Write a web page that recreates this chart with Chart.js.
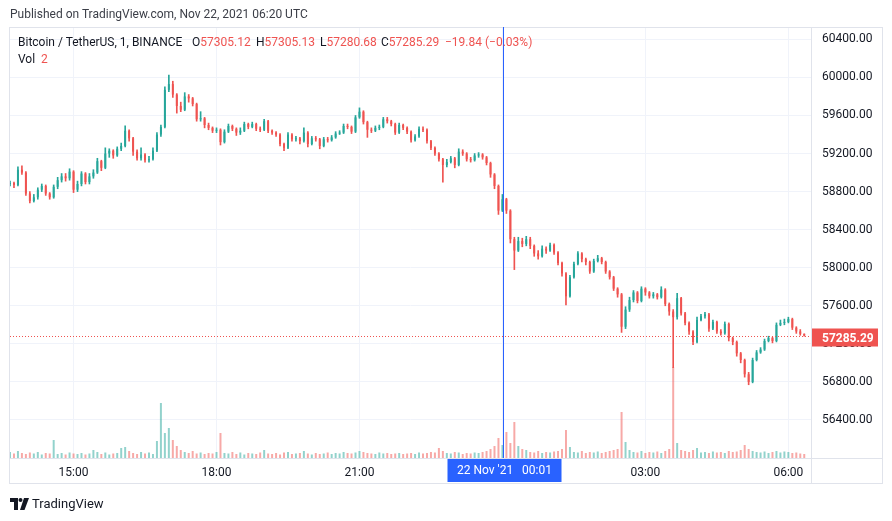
<!DOCTYPE html>
<html>
<head>
<meta charset="utf-8">
<script src="https://cdn.jsdelivr.net/npm/chart.js@4.4.0/dist/chart.umd.min.js"></script>
<style>
  body { margin: 0; background: #fff; font-family: Roboto, sans-serif; }
  #wrap { position: relative; width: 892px; height: 521px; overflow: hidden; }
  #c { position: absolute; left: 0; top: 0; }
  .t { position: absolute; font-size: 12px; line-height: 14px; color: #131722; white-space: pre; }
  .r { color: #ef5350; }
</style>
</head>
<body>
<div id="wrap">
  <canvas id="c" width="892" height="521"></canvas>
  <div class="t" style="left:10px;top:7px;color:#3b3e47">Published on TradingView.com, Nov 22, 2021 06:20 UTC</div>
  <div class="t" style="left:18px;top:35px">Bitcoin / TetherUS, 1, BINANCE</div>
  <div class="t" style="left:192px;top:35px">O<span class="r">57305.12</span></div>
  <div class="t" style="left:256px;top:35px">H<span class="r">57305.13</span></div>
  <div class="t" style="left:320px;top:35px">L<span class="r">57280.68</span></div>
  <div class="t" style="left:381px;top:35px">C<span class="r">57285.29</span></div>
  <div class="t r" style="left:445px;top:35px">−19.84 (−0.03%)</div>
  <div class="t" style="left:18px;top:52px">Vol <span class="r" style="margin-left:3px">2</span></div>
  <svg style="position:absolute;left:10px;top:498px" width="20" height="12" viewBox="0 0 20 12">
    <path d="M0 0H8V12H4V4H0Z" fill="#131722"/>
    <circle cx="10.5" cy="2" r="2" fill="#131722"/>
    <path d="M14 0H19L14.5 12H10Z" fill="#131722"/>
  </svg>
  <div class="t" style="left:32px;top:496px;font-size:13px;line-height:15px">TradingView</div>
</div>
<script>
// 5-minute candles from 13:40 (Nov 21) to 06:20 (Nov 22)
const firstOpen = 58880;
const closes = [
  58890, 58870, 59030, 59000, 58780, 58700, 58740, 58820, 58860, 58780,
  58740, 58850, 58920, 58960, 58940, 59010, 58820, 58880, 58990, 58900,
  58960, 59000, 59120, 59050, 59200, 59230, 59180, 59250, 59280, 59440,
  59360, 59220, 59150, 59190, 59130, 59140, 59230, 59400, 59480, 59870,
  59930, 59820, 59700, 59660, 59800, 59780, 59720, 59560, 59570, 59500,
  59470, 59440, 59450, 59320, 59430, 59490, 59460, 59420, 59440, 59510,
  59480, 59510, 59460, 59450, 59540, 59440, 59420, 59400, 59300, 59260,
  59400, 59350, 59360, 59330, 59420, 59300, 59360, 59350, 59280, 59350,
  59340, 59370, 59410, 59420, 59490, 59480, 59430, 59580, 59640, 59530,
  59450, 59440, 59470, 59480, 59560, 59540, 59510, 59420, 59500, 59470,
  59430, 59340, 59380, 59460, 59450, 59330, 59260, 59200, 59140, 59080,
  59110, 59150, 59080, 59220, 59200, 59140, 59130, 59180, 59190, 59160,
  59100, 58980, 58860, 58600, 58720, 58600, 58300, 58180, 58280, 58250,
  58300, 58230, 58150, 58120, 58200, 58180, 58240, 58160, 58050, 57940,
  57700, 57900, 58040, 58150, 58090, 58060, 57960, 58070, 58100, 58060,
  57960, 57900, 57780, 57720, 57380, 57560, 57660, 57740, 57650, 57780,
  57740, 57700, 57720, 57690, 57770, 57620, 57540, 57480, 57680, 57520,
  57420, 57330, 57220, 57450, 57490, 57510, 57360, 57430, 57330, 57310,
  57410, 57260, 57220, 57100, 57030, 56880, 56800, 57030, 57110, 57140,
  57230, 57260, 57230, 57400, 57420, 57430, 57460, 57370, 57330, 57305.13,
  57285.29
];
const highs = [
  58910, 58900, 59060, 59070, 59010, 58800, 58770, 58840, 58880, 58870,
  58790, 58870, 58950, 58990, 58990, 59040, 59020, 58910, 59010, 59000,
  58990, 59030, 59150, 59130, 59260, 59250, 59240, 59270, 59310, 59490,
  59450, 59370, 59240, 59260, 59200, 59170, 59260, 59420, 59500, 59900,
  60025, 59960, 59830, 59740, 59840, 59820, 59790, 59730, 59640, 59580,
  59520, 59480, 59470, 59460, 59450, 59510, 59500, 59470, 59470, 59530,
  59520, 59530, 59520, 59480, 59560, 59550, 59450, 59430, 59410, 59310,
  59420, 59410, 59380, 59370, 59470, 59430, 59380, 59380, 59360, 59370,
  59370, 59390, 59430, 59440, 59510, 59510, 59490, 59600, 59680, 59650,
  59540, 59470, 59490, 59500, 59580, 59580, 59550, 59520, 59520, 59510,
  59480, 59440, 59400, 59480, 59480, 59460, 59340, 59270, 59210, 59150,
  59140, 59170, 59160, 59250, 59240, 59210, 59160, 59200, 59210, 59200,
  59170, 59110, 58990, 58870, 58770, 58730, 58610, 58320, 58320, 58310,
  58330, 58320, 58240, 58180, 58230, 58220, 58260, 58250, 58170, 58060,
  57950, 57920, 58060, 58170, 58160, 58100, 58070, 58090, 58130, 58110,
  58070, 57970, 57910, 57790, 57730, 57590, 57690, 57760, 57750, 57800,
  57790, 57750, 57740, 57730, 57800, 57780, 57630, 57560, 57730, 57690,
  57530, 57430, 57340, 57480, 57510, 57530, 57520, 57450, 57440, 57350,
  57430, 57420, 57270, 57230, 57110, 57040, 56900, 57050, 57130, 57160,
  57250, 57280, 57270, 57420, 57450, 57460, 57480, 57470, 57380, 57350,
  57305.13
];
const lows = [
  58860, 58840, 58860, 58980, 58760, 58680, 58690, 58720, 58800, 58760,
  58720, 58730, 58830, 58900, 58910, 58920, 58790, 58800, 58860, 58880,
  58880, 58940, 58990, 59020, 59040, 59160, 59150, 59170, 59230, 59270,
  59330, 59180, 59130, 59130, 59110, 59110, 59130, 59220, 59380, 59470,
  59850, 59790, 59625, 59640, 59650, 59740, 59700, 59540, 59540, 59470,
  59450, 59420, 59420, 59290, 59310, 59420, 59440, 59390, 59400, 59430,
  59460, 59470, 59440, 59430, 59440, 59420, 59400, 59380, 59280, 59230,
  59250, 59330, 59330, 59300, 59320, 59270, 59290, 59330, 59250, 59270,
  59320, 59330, 59360, 59400, 59410, 59460, 59410, 59420, 59570, 59510,
  59370, 59420, 59430, 59450, 59470, 59520, 59490, 59400, 59410, 59450,
  59410, 59320, 59330, 59370, 59430, 59310, 59240, 59180, 59120, 58900,
  59060, 59100, 59050, 59070, 59180, 59120, 59110, 59120, 59160, 59140,
  59080, 58950, 58830, 58560, 58590, 58570, 58260, 57980, 58170, 58220,
  58230, 58200, 58120, 58090, 58110, 58150, 58170, 58140, 58030, 57910,
  57610, 57690, 57890, 58030, 58060, 58030, 57940, 57950, 58060, 58040,
  57940, 57880, 57760, 57690, 57320, 57360, 57540, 57640, 57630, 57640,
  57710, 57680, 57680, 57670, 57680, 57600, 57500, 56950, 57460, 57500,
  57400, 57300, 57190, 57210, 57440, 57470, 57330, 57350, 57310, 57290,
  57300, 57230, 57190, 57070, 57000, 56850, 56770, 56790, 57020, 57100,
  57130, 57220, 57210, 57220, 57390, 57400, 57420, 57350, 57310, 57290,
  57280.68
];
const volumes = [
  60, 45, 70, 50, 40, 55, 45, 60, 35, 50,
  45, 180, 40, 50, 35, 55, 45, 40, 50, 35,
  45, 80, 60, 40, 55, 35, 45, 50, 100, 110,
  70, 50, 40, 60, 45, 55, 40, 170, 550, 250,
  300, 180, 120, 80, 60, 50, 70, 45, 55, 40,
  50, 45, 60, 250, 50, 45, 60, 40, 55, 35,
  50, 45, 40, 55, 80, 45, 40, 50, 35, 55,
  60, 40, 45, 50, 70, 45, 35, 50, 40, 45,
  55, 40, 50, 45, 60, 50, 45, 55, 70, 60,
  50, 45, 40, 55, 45, 50, 40, 45, 50, 40,
  45, 50, 40, 55, 45, 50, 60, 55, 100, 70,
  50, 45, 60, 55, 40, 50, 45, 55, 50, 60,
  70, 90, 120, 200, 130, 260, 150, 360, 120, 90,
  80, 60, 55, 70, 50, 60, 55, 65, 70, 90,
  280, 110, 60, 55, 70, 50, 60, 55, 65, 50,
  60, 70, 80, 90, 460, 160, 80, 60, 55, 70,
  50, 60, 55, 65, 50, 70, 90, 910, 150, 80,
  70, 60, 80, 100, 55, 60, 50, 65, 55, 60,
  50, 70, 60, 65, 80, 130, 90, 70, 60, 55,
  65, 50, 60, 70, 55, 65, 60, 50, 55, 45,
  40
];
const tickIndex = [16, 52, 88, 124, 160, 196];
const tickLabels = ["15:00", "18:00", "21:00", "", "03:00", "06:00"];
const priceTicks = [56400, 56800, 57200, 57600, 58000, 58400, 58800, 59200, 59600, 60000, 60400];
const crossIndex = 124.2; // 22 Nov 00:01
const crossLabel = "22 Nov '21   00:01";

const UP = "#26a69a";
const DOWN = "#ef5350";
const opens = closes.map((c, i) => i === 0 ? firstOpen : closes[i - 1]);
const isUp = closes.map((c, i) => c >= opens[i]);
const candleColors = isUp.map(u => u ? UP : DOWN);
const volColors = isUp.map(u => u ? "rgba(38,166,154,0.5)" : "rgba(239,83,80,0.5)");

Chart.defaults.font.family = "Roboto";

const overlay = {
  id: "overlay",
  afterDraw(chart) {
    const { ctx, chartArea: a, scales } = chart;
    const x = scales.x, y = scales.y;
    ctx.save();

    // frame
    ctx.strokeStyle = "#e0e3eb";
    ctx.lineWidth = 1;
    ctx.strokeRect(9.5, 27.5, 873, 456);
    ctx.beginPath();
    ctx.moveTo(a.right + 0.5, 27); ctx.lineTo(a.right + 0.5, 484);
    ctx.moveTo(9, a.bottom + 0.5); ctx.lineTo(882, a.bottom + 0.5);
    ctx.stroke();

    // last price line
    const last = closes[closes.length - 1];
    const py = Math.round(y.getPixelForValue(last)) + 0.5;
    ctx.strokeStyle = DOWN;
    ctx.setLineDash([1, 2]);
    ctx.beginPath();
    ctx.moveTo(a.left, py); ctx.lineTo(a.right, py);
    ctx.stroke();
    ctx.setLineDash([]);
    ctx.fillStyle = DOWN;
    ctx.fillRect(a.right + 1, py - 8, 66, 18);
    ctx.fillStyle = "#fff";
    ctx.font = "bold 12px Roboto";
    ctx.textBaseline = "middle";
    ctx.textAlign = "left";
    ctx.fillText(last.toFixed(2), a.right + 11, py + 2);

    // crosshair
    const cx = Math.round(x.getPixelForValue(crossIndex)) + 0.5;
    ctx.strokeStyle = "#2962ff";
    ctx.beginPath();
    ctx.moveTo(cx, a.top); ctx.lineTo(cx, a.bottom);
    ctx.stroke();
    ctx.fillStyle = "#2962ff";
    ctx.fillRect(cx - 56, a.bottom + 1, 114, 23);
    ctx.fillStyle = "#fff";
    ctx.font = "12px Roboto";
    ctx.textAlign = "center";
    ctx.fillText(crossLabel, cx + 1, a.bottom + 13);
    ctx.restore();
  }
};

new Chart(document.getElementById("c").getContext("2d"), {
  type: "bar",
  data: {
    datasets: [
      {
        label: "body",
        data: closes.map((c, i) => ({ x: i, y: [opens[i], c] })),
        backgroundColor: candleColors,
        grouped: false,
        categoryPercentage: 1,
        barPercentage: 0.5,
        minBarLength: 1,
        order: 1,
        yAxisID: "y"
      },
      {
        label: "wick",
        data: closes.map((c, i) => ({ x: i, y: [lows[i], highs[i]] })),
        backgroundColor: candleColors,
        grouped: false,
        barThickness: 1,
        order: 2,
        yAxisID: "y"
      },
      {
        label: "Vol",
        data: volumes.map((v, i) => ({ x: i, y: v })),
        backgroundColor: volColors,
        grouped: false,
        categoryPercentage: 1,
        barPercentage: 0.5,
        order: 3,
        yAxisID: "yv"
      }
    ]
  },
  options: {
    responsive: false,
    animation: false,
    layout: { padding: { left: 10, top: 27, right: 9, bottom: 37 } },
    plugins: { legend: { display: false }, tooltip: { enabled: false } },
    scales: {
      x: {
        type: "linear",
        min: 0,
        max: 201.7,
        offset: false,
        afterBuildTicks: s => { s.ticks = tickIndex.map(v => ({ value: v })); },
        afterFit: s => { s.height = 26; },
        ticks: {
          autoSkip: false,
          maxRotation: 0,
          padding: 8,
          color: "#131722",
          font: { size: 12 },
          callback: v => tickLabels[tickIndex.indexOf(v)]
        },
        grid: { color: "#f0f3fa", drawTicks: false, offset: false },
        border: { display: false }
      },
      y: {
        position: "right",
        min: 56000,
        max: 60530,
        afterBuildTicks: s => { s.ticks = priceTicks.map(v => ({ value: v })); },
        afterFit: s => { s.width = 72; },
        ticks: {
          padding: 11,
          color: "#131722",
          font: { size: 12 },
          callback: v => v.toFixed(2)
        },
        grid: { color: "#f0f3fa", drawTicks: false },
        border: { display: false }
      },
      yv: { display: false, min: 0, max: 4310 }
    }
  },
  plugins: [overlay]
});
</script>
</body>
</html>
